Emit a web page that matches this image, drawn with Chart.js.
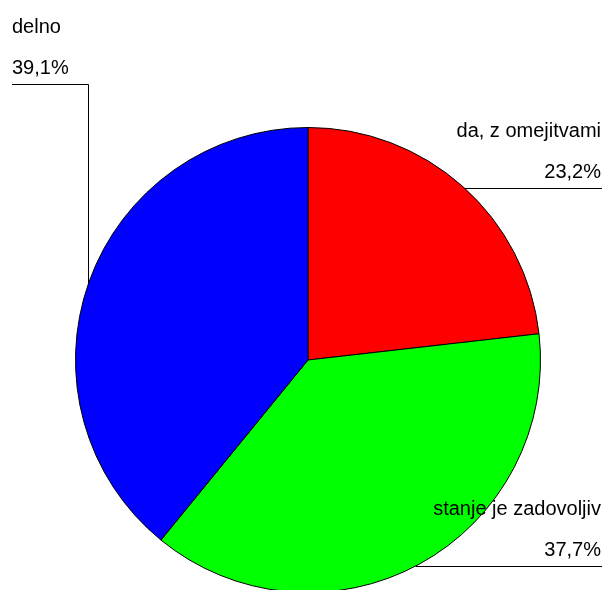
<!DOCTYPE html>
<html>
<head>
<meta charset="utf-8">
<script src="https://cdn.jsdelivr.net/npm/chart.js@4"></script>
<style>
  html, body { margin: 0; padding: 0; background: #fff; width: 604px; height: 590px; overflow: hidden; }
  #wrap { position: relative; width: 604px; height: 640px; }
</style>
</head>
<body>
<div id="wrap"><canvas id="pie"></canvas></div>
<script>
// answer categories and their shares (%)
const categories = ['da, z omejitvami', 'stanje je zadovoljiv', 'delno'];
const shares = [23.2, 37.7, 39.1];
const sliceColors = ['#ff0000', '#00ff00', '#0000ff'];

const fmt = v => v.toFixed(1).replace('.', ',') + '%';

// where each callout sits: side 'right' uses a horizontal rule at lineY,
// side 'left' drops a vertical leader at lineX up to lineY
const callouts = [
  { side: 'right', lineY: 188, textX: 601 },
  { side: 'right', lineY: 566, textX: 601 },
  { side: 'left', lineY: 84, lineX: 88, textX: 12 }
];

const calloutPlugin = {
  id: 'callouts',
  afterDatasetsDraw(chart) {
    const ctx = chart.ctx;
    const arc = chart.getDatasetMeta(0).data[0];
    const cx = arc.x, cy = arc.y, r = arc.outerRadius;
    ctx.save();
    ctx.strokeStyle = '#000';
    ctx.lineWidth = 1;
    ctx.fillStyle = '#000';
    ctx.font = '20px "Liberation Sans", Arial, sans-serif';
    ctx.textBaseline = 'alphabetic';
    callouts.forEach((c, i) => {
      const y = c.lineY + 0.5;
      ctx.beginPath();
      if (c.side === 'right') {
        const xEdge = cx + Math.sqrt(r * r - (c.lineY - cy) * (c.lineY - cy));
        ctx.moveTo(xEdge, y);
        ctx.lineTo(602, y);
        ctx.textAlign = 'right';
      } else {
        const x = c.lineX + 0.5;
        const yEdge = cy - Math.sqrt(r * r - (c.lineX - cx) * (c.lineX - cx));
        ctx.moveTo(x, yEdge);
        ctx.lineTo(x, y);
        ctx.lineTo(c.textX, y);
        ctx.textAlign = 'left';
      }
      ctx.stroke();
      ctx.fillText(fmt(shares[i]), c.textX, c.lineY - 10);
      ctx.fillText(categories[i], c.textX, c.lineY - 51);
    });
    ctx.restore();
  }
};

new Chart(document.getElementById('pie'), {
  type: 'pie',
  data: {
    labels: categories,
    datasets: [{
      data: shares,
      backgroundColor: sliceColors,
      borderColor: '#000',
      borderWidth: 1
    }]
  },
  options: {
    responsive: true,
    maintainAspectRatio: false,
    animation: false,
    layout: { padding: { left: 75, right: 63, top: 127, bottom: 47 } },
    plugins: {
      legend: { display: false },
      tooltip: { enabled: false }
    }
  },
  plugins: [calloutPlugin]
});
</script>
</body>
</html>
